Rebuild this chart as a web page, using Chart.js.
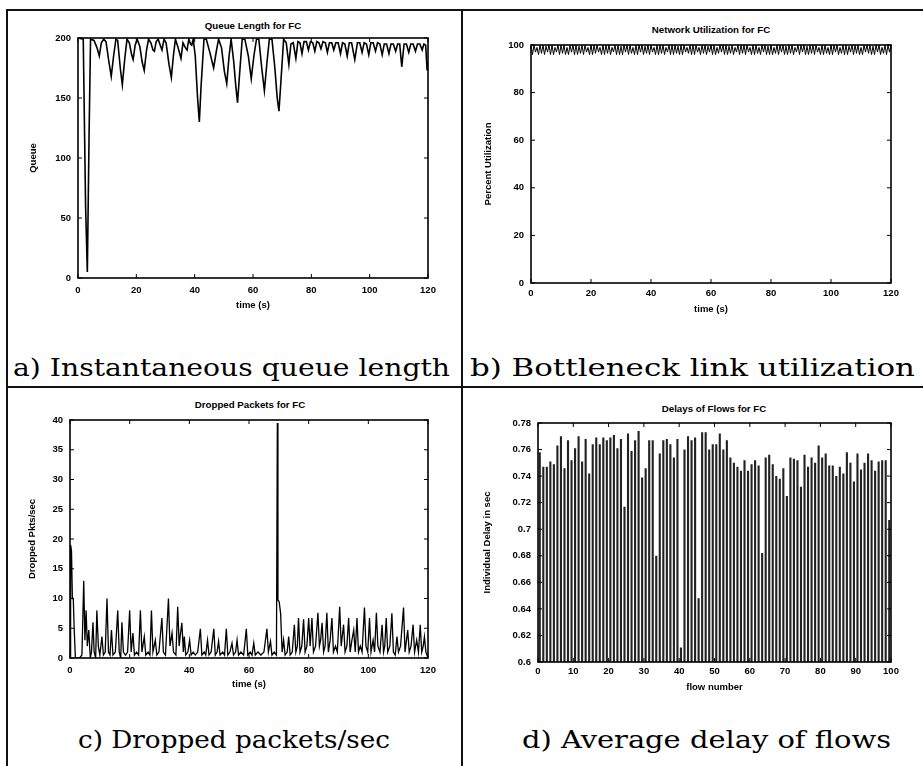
<!DOCTYPE html>
<html><head><meta charset="utf-8">
<script src="https://cdn.jsdelivr.net/npm/chart.js@4.4.0/dist/chart.umd.min.js"></script>
<style>
html,body{margin:0;padding:0;background:#fff;}
body{width:923px;height:766px;position:relative;overflow:hidden;}
canvas{position:absolute;}
.ln{position:absolute;background:#111;}
.ttl{position:absolute;font:bold 9.7px "Liberation Sans",Arial,sans-serif;color:#000;transform:translate(-50%,-50%);white-space:nowrap;}
.cap{position:absolute;font-family:"DejaVu Serif",serif;font-size:25px;line-height:25px;color:#000;white-space:nowrap;transform-origin:0 50%;}
</style></head><body>
<div class="ln" style="left:6px;top:9px;width:917px;height:2px"></div>
<div class="ln" style="left:6px;top:9px;width:2px;height:757px"></div>
<div class="ln" style="left:461px;top:9px;width:2px;height:757px"></div>
<div class="ln" style="left:6px;top:386px;width:917px;height:2px"></div>

<div class="ttl" style="left:253px;top:25px">Queue Length for FC</div>
<div class="ttl" style="left:711px;top:29px">Network Utilization for FC</div>
<div class="ttl" style="left:250px;top:404px">Dropped Packets for FC</div>
<div class="ttl" style="left:714px;top:408px">Delays of Flows for FC</div>

<div class="cap" data-x="13" data-y="367" data-w="437">a) Instantaneous queue length</div>
<div class="cap" data-x="470" data-y="367" data-w="445">b) Bottleneck link utilization</div>
<div class="cap" data-x="78" data-y="739" data-w="312">c) Dropped packets/sec</div>
<div class="cap" data-x="522" data-y="739" data-w="369">d) Average delay of flows</div>

<canvas id="ca" width="450" height="300" style="left:8px;top:14px"></canvas>
<canvas id="cb" width="455" height="302" style="left:466px;top:14px"></canvas>
<canvas id="cc" width="450" height="300" style="left:8px;top:392px"></canvas>
<canvas id="cd" width="455" height="302" style="left:466px;top:392px"></canvas>

<script>
// ---------- DATA ----------
// a) Instantaneous queue length (time s, packets)
const queueTime = [0,1.8,2.6,3.2,3.8,4.3,5.5,6.5,7.3,8.0,8.8,9.6,10.6,11.4,12.2,13.0,13.6,14.5,15.2,16.0,16.8,17.6,18.4,18.9,19.6,20.3,21.2,22.0,22.7,23.5,24.2,25.0,25.7,26.2,26.8,27.5,28.2,28.8,29.5,30.2,31.2,32.0,32.7,33.4,34.2,35.3,36.0,36.8,37.4,38.0,38.6,39.0,39.5,40.2,41.0,41.6,42.2,43.2,44.0,45.2,46.5,47.5,48.2,49.2,50.2,51.0,51.8,52.5,53.4,54.1,54.7,55.4,56.3,57.2,58.4,59.4,60.3,61.2,62.0,63.0,63.9,64.8,65.6,66.5,67.5,68.3,68.9,69.6,70.5,71.4,72.3,73.0,73.8,74.7,75.4,76.1,76.8,77.5,78.3,79.0,79.7,80.5,81.2,81.9,82.6,83.3,84.0,84.8,85.5,86.2,87.0,87.7,88.4,89.2,90.0,90.7,91.5,92.3,93.0,93.8,94.9,95.8,96.6,97.4,98.1,98.9,99.7,100.4,101.2,102.0,102.7,103.5,104.3,105.0,105.8,106.6,107.3,108.1,108.9,109.6,110.3,111.0,111.8,112.6,113.4,114.1,114.9,115.7,116.4,117.2,118.0,118.6,119.2,119.7,120];
const queueLen = [200,199,60,5,120,199,198,192,185,196,199,197,180,168,185,199,198,175,161,182,199,196,186,182,194,199,193,180,173,190,199,196,190,189,197,199,194,190,199,196,178,167,185,199,193,183,196,192,190,199,195,194,199,185,150,130,160,199,199,188,175,190,199,192,172,162,185,199,180,160,146,170,199,199,185,166,185,199,199,175,156,180,199,199,175,150,139,165,199,196,178,195,196,183,197,196,187,197,197,190,197,196,189,197,196,191,197,196,188,196,196,190,196,196,187,196,195,185,196,196,182,196,196,188,196,195,186,196,196,189,196,195,186,195,195,187,195,195,189,195,195,176,195,195,188,195,195,189,195,195,190,195,194,173,180];

// b) Bottleneck link utilization (%), one sample every 0.5 s
const utilStep = 0.5;
const utilPct = [
100,96,100,97,99,96,100,96.5,100,96,99.5,97,100,96,100,96,99,97,100,96,
100,96.5,100,96,99,96,100,97,100,96,100,96,99.5,96.5,100,96,100,97,99,96,
100,96,100,96.5,100,97,99,96,100,96,100,96.5,100,96,99,97,100,96,100,96,
99.5,96,100,97,100,96,100,96.5,99,96,100,96,100,97,100,96,99.5,96.5,100,96,
100,97,99,96,100,96,100,96.5,100,96,99,97,100,96,100,96,100,96.5,99.5,96,
100,96,100,97,99,96.5,100,96,100,96,100,97,99,96,100,96.5,100,96,99.5,97,
100,96,100,96,99,96.5,100,97,100,96,100,96,99.5,96.5,100,96,99,97,100,96,
100,96.5,100,96,100,97,99,96,100,96,100,96.5,99,96,100,97,100,96,99.5,96,
100,96,99,96.5,100,96,100,97,100,96,99.5,96,100,96.5,100,96,99,97,100,96,
100,97,100,96,99.5,96,100,96.5,100,96,100,97,99,96,100,96,100,96.5,99,96,
100,96,100,97,100,96,99,96.5,100,96,100,96,99.5,97,100,96,100,96.5,100,96,
99,96,100,97,100,96.5,100,96,99.5,96,100,97,100,96,99,96.5,100,96,100,97,
100];

// c) Dropped packets/sec
const dropTime = [0,0.2,0.5,0.8,1.1,1.4,1.8,2.5,3.2,4.0,4.6,5.0,5.4,5.8,6.3,6.8,7.2,7.7,8.1,8.6,9.0,9.5,10.0,10.7,11.2,11.8,12.4,12.9,13.4,13.9,14.4,15.2,16.0,16.5,17.0,17.4,17.9,18.6,19.3,20.0,20.5,21.1,21.6,22.3,23.0,23.6,24.1,24.9,25.4,26.2,26.8,27.3,27.8,28.6,29.1,29.8,30.8,31.3,32.0,33.0,33.5,34.2,34.7,35.5,36.1,36.6,37.0,37.5,38.0,38.3,38.8,39.5,40.1,40.6,41.3,42.0,42.8,43.7,44.2,45.0,45.5,46.1,46.6,47.3,48.2,48.7,49.3,49.8,50.3,51.2,51.8,52.4,52.9,53.6,54.3,54.8,55.5,56.0,56.5,57.3,58.2,59.1,59.6,60.4,61.0,61.6,62.1,63.0,64.0,65.0,66.0,66.5,67.2,67.7,68.5,69.2,69.5,69.7,70.1,70.6,71.1,71.6,72.1,72.8,73.3,73.8,74.5,75.2,75.7,76.2,76.6,77.1,77.7,78.3,78.8,79.4,80.0,80.5,81.1,81.6,82.3,83.1,83.6,84.0,84.5,85.0,85.5,86.1,86.6,87.2,87.8,88.3,89.0,89.6,90.4,90.9,91.7,92.2,92.8,93.4,93.9,94.5,95.1,95.6,96.2,96.7,97.3,97.9,98.7,99.2,99.8,100.4,100.9,101.6,102.1,102.7,103.2,103.9,104.6,105.1,105.5,106.0,106.5,107.2,107.9,108.4,109.0,109.6,110.1,110.8,111.8,112.3,113.2,113.7,114.3,115.0,115.5,116.2,116.8,117.4,117.9,118.4,118.8,119.3,120];
const dropRate = [0,19,18,10,10,5,0,0,0,0.5,13,3,8,2,4.7,0,1,6,1,0,8,2,0.5,3.6,0.5,1,10,1,0.5,4.7,0.5,1,8,1,0,6,1,0.5,1,8,1,4.2,0.5,1,0.5,8,1,3.6,0.5,1,0.5,8,1,3,0.5,1,6.7,1,0.5,10,2,4.2,1,0.5,8.6,2,4,5.9,1,3.6,0.5,1,3,0.5,1,0.5,1,4.9,0.5,1,0.5,3,0.5,1,4.9,0.5,1,2.8,0.5,1,0.5,4.9,0.5,1,2.5,0.5,1,3,0.5,1,0.5,4.9,0.5,1,0.5,2.5,0.5,1,0.5,1,4.9,1,2.8,0.5,1,0.5,39.5,9.7,9.5,7.5,1,3,0.5,1,3.6,0.5,1,5.6,1,2,6.7,1,2,6.5,1,2,6.7,2,6.7,1,2,7.6,2,3,5.9,1,2,7.6,1,3,6.7,1,2,1,8.6,2,5.6,1,2,6.7,1,3,4.7,1,6.7,1,2,1,8.5,2,1,6.7,1,3,1,7.6,2,1,5.6,1,2,6.7,1,2,7.5,1,0.5,3.6,1,2,8.5,1,4.7,1,2,5.6,1,3,1,5.6,1,2,3.6,1,0];

// d) Average delay of flows (s), flows 1..100
const flowIds = Array.from({length: 100}, (_, i) => String(i + 1));
const flowDelay = [
0.758,0.747,0.747,0.751,0.749,0.763,0.770,0.746,0.767,0.752,
0.761,0.770,0.751,0.768,0.742,0.764,0.769,0.764,0.769,0.767,
0.769,0.771,0.761,0.768,0.717,0.772,0.759,0.767,0.774,0.739,
0.746,0.767,0.767,0.680,0.757,0.767,0.768,0.764,0.754,0.768,
0.611,0.760,0.770,0.767,0.769,0.648,0.773,0.773,0.760,0.764,
0.764,0.772,0.760,0.767,0.754,0.750,0.747,0.744,0.752,0.744,
0.749,0.752,0.748,0.682,0.754,0.756,0.749,0.740,0.738,0.746,
0.725,0.754,0.753,0.752,0.732,0.756,0.747,0.754,0.750,0.763,
0.754,0.757,0.748,0.748,0.740,0.747,0.742,0.758,0.750,0.736,
0.757,0.745,0.750,0.757,0.752,0.744,0.751,0.752,0.752,0.707];

// ---------- STYLE / HELPERS ----------
const FAM = '"Liberation Sans", Arial, sans-serif';
const tickFont = {family: FAM, size: 9.5, weight: 'bold'};
const labFont = {family: FAM, size: 9.5, weight: 'bold', lineHeight: 1.2};

const frameTicks = {
  id: 'frameTicks',
  afterDraw(chart) {
    const {ctx, chartArea: a} = chart;
    const xs = chart.scales.xt || chart.scales.x;
    const ys = chart.scales.y;
    ctx.save();
    ctx.strokeStyle = '#000';
    ctx.lineWidth = 1.6;
    ctx.strokeRect(a.left, a.top, a.right - a.left, a.bottom - a.top);
    ctx.lineWidth = 1;
    const len = 4;
    ctx.beginPath();
    xs.ticks.forEach(t => {
      const p = xs.getPixelForValue(t.value);
      ctx.moveTo(p, a.bottom); ctx.lineTo(p, a.bottom - len);
      ctx.moveTo(p, a.top); ctx.lineTo(p, a.top + len);
    });
    ys.ticks.forEach(t => {
      const p = ys.getPixelForValue(t.value);
      ctx.moveTo(a.left, p); ctx.lineTo(a.left + len, p);
      ctx.moveTo(a.right, p); ctx.lineTo(a.right - len, p);
    });
    ctx.stroke();
    ctx.restore();
  }
};

function yAxis(o) {
  const t = {stepSize: o.step, padding: o.pad, color: '#000', font: tickFont};
  if (o.cb) t.callback = o.cb;
  return {
    type: 'linear', position: 'left', min: o.min, max: o.max,
    afterFit: s => { s.width = o.w; },
    grid: {display: false, drawTicks: false}, border: {display: false},
    ticks: t,
    title: {display: true, text: o.title, color: '#000', font: labFont, padding: {top: o.tpad, bottom: 0}}
  };
}
function xAxis(o) {
  return {
    type: 'linear', position: 'bottom', min: o.min, max: o.max, offset: false,
    afterFit: s => { s.height = o.h; },
    grid: {display: false, drawTicks: false, offset: false}, border: {display: false},
    ticks: {stepSize: o.step, padding: o.pad, color: '#000', font: tickFont, maxRotation: 0, autoSkip: false},
    title: {display: true, text: o.title, color: '#000', font: labFont, padding: {top: 0, bottom: o.bpad}}
  };
}
const baseOpts = (pad) => ({
  responsive: false, animation: false, devicePixelRatio: 1,
  layout: {padding: pad},
  plugins: {legend: {display: false}, tooltip: {enabled: false}, title: {display: false}},
});

// a) queue
new Chart(document.getElementById('ca'), {
  type: 'line',
  data: {datasets: [{data: queueTime.map((t, i) => ({x: t, y: queueLen[i]})), borderColor: '#000', borderWidth: 1.6, pointRadius: 0, tension: 0}]},
  options: Object.assign(baseOpts({left: 0, top: 24, right: 30, bottom: 0}), {
    scales: {
      x: xAxis({min: 0, max: 120, step: 20, h: 36, pad: 7, title: 'time (s)', bpad: 2.5}),
      y: yAxis({min: 0, max: 200, step: 50, w: 70, pad: 7, title: 'Queue', tpad: 19.5})
    }
  }),
  plugins: [frameTicks]
});

// b) utilization
new Chart(document.getElementById('cb'), {
  type: 'line',
  data: {datasets: [{data: utilPct.map((v, i) => ({x: i * utilStep, y: v})), borderColor: '#000', borderWidth: 1, pointRadius: 0, tension: 0}]},
  options: Object.assign(baseOpts({left: 0, top: 31, right: 30, bottom: 0}), {
    scales: {
      x: xAxis({min: 0, max: 120, step: 20, h: 33, pad: 5, title: 'time (s)', bpad: 0.5}),
      y: yAxis({min: 0, max: 100, step: 20, w: 65, pad: 7, title: 'Percent Utilization', tpad: 16.5})
    }
  }),
  plugins: [frameTicks]
});

// c) drops
new Chart(document.getElementById('cc'), {
  type: 'line',
  data: {datasets: [{data: dropTime.map((t, i) => ({x: t, y: dropRate[i]})), borderColor: '#000', borderWidth: 1.3, pointRadius: 0, tension: 0}]},
  options: Object.assign(baseOpts({left: 0, top: 28, right: 30, bottom: 0}), {
    scales: {
      x: xAxis({min: 0, max: 120, step: 20, h: 34, pad: 7, title: 'time (s)', bpad: 1.5}),
      y: yAxis({min: 0, max: 40, step: 5, w: 62, pad: 7, title: 'Dropped Pkts/sec', tpad: 18.5})
    }
  }),
  plugins: [frameTicks]
});

// d) delays
new Chart(document.getElementById('cd'), {
  type: 'bar',
  data: {labels: flowIds, datasets: [{data: flowDelay, backgroundColor: '#222', borderWidth: 0, barPercentage: 0.6, categoryPercentage: 1, xAxisID: 'x'}]},
  options: Object.assign(baseOpts({left: 0, top: 31, right: 30, bottom: 0}), {
    scales: {
      x: {type: 'category', display: false, offset: true},
      xt: xAxis({min: 0, max: 100, step: 10, h: 32, pad: 4, title: 'flow number', bpad: 0.5}),
      y: yAxis({min: 0.6, max: 0.78, step: 0.02, w: 72, pad: 7, title: 'Individual Delay in sec', tpad: 15.5,
                cb: v => String(+v.toFixed(2))})
    }
  }),
  plugins: [frameTicks]
});

// captions: fit to measured widths
document.querySelectorAll('.cap').forEach(el => {
  const x = +el.dataset.x, y = +el.dataset.y, tw = +el.dataset.w;
  el.style.left = x + 'px';
  el.style.top = (y - 12.5) + 'px';
  const w = el.getBoundingClientRect().width;
  el.style.transform = 'scaleX(' + (tw / w) + ')';
});
</script>
</body></html>
